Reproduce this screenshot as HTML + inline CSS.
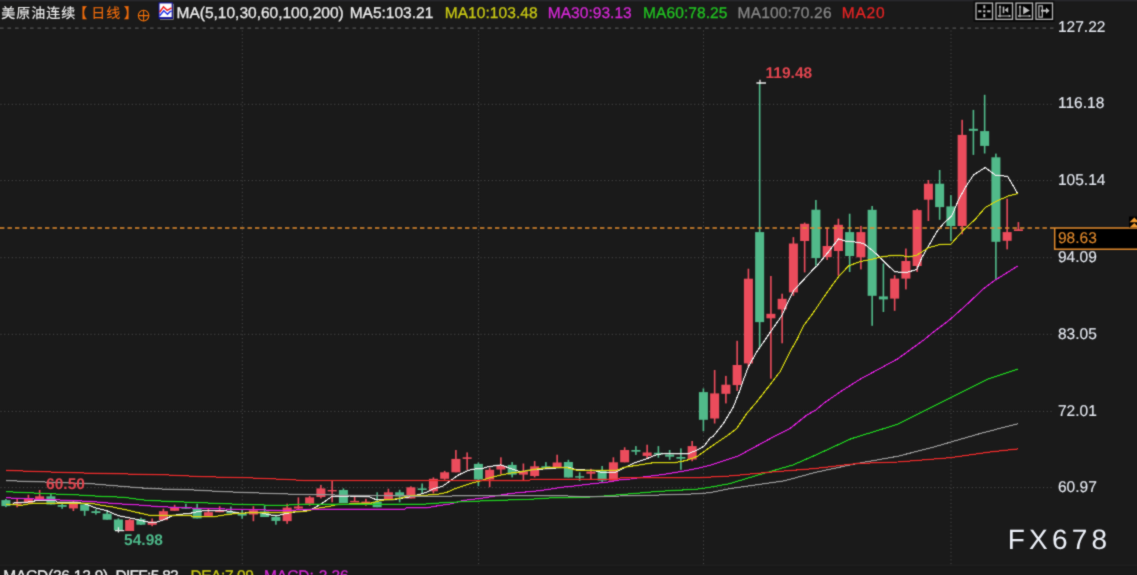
<!DOCTYPE html>
<html><head><meta charset="utf-8"><title>美原油连续 日线</title>
<style>
html,body{margin:0;padding:0;background:#1a1a1a;}
body{text-rendering:geometricPrecision;width:1137px;height:575px;overflow:hidden;position:relative;font-family:"Liberation Sans","Noto Sans CJK SC",sans-serif;}
.t{position:absolute;white-space:nowrap;line-height:1.15;-webkit-text-stroke:0.3px currentColor;}
#wrap{position:absolute;left:0;top:0;width:1137px;height:575px;filter:url(#soft);}
</style></head><body><div id="wrap">
<svg width="1137" height="575" viewBox="0 0 1137 575" style="position:absolute;left:0;top:0">
<defs><filter id="soft" x="0" y="0" width="100%" height="100%" color-interpolation-filters="sRGB"><feConvolveMatrix order="3" kernelMatrix="1 3 1 3 16 3 1 3 1" divisor="32" edgeMode="duplicate" preserveAlpha="false"/></filter></defs>
<rect x="0" y="-1" width="1137" height="2" fill="#27282c"/>
<rect x="0" y="1" width="1137" height="1" fill="#1e1e20"/>
<rect x="0" y="564.4" width="1137" height="1.8" fill="#1f1f1f"/>
<rect x="0" y="566.2" width="1137" height="9" fill="#191919"/>
<g stroke="#4a4a4a" stroke-width="1" fill="none">
<line x1="0" y1="28.1" x2="1053.5" y2="28.1" stroke="#626262" stroke-dasharray="3.6 3.9"/>
<line x1="0.5" y1="104.3" x2="1053" y2="104.3" stroke-dasharray="1.1 2.65"/>
<line x1="0.5" y1="180.6" x2="1053" y2="180.6" stroke-dasharray="1.1 2.65"/>
<line x1="0.5" y1="257.7" x2="1053" y2="257.7" stroke-dasharray="1.1 2.65"/>
<line x1="0.5" y1="334.3" x2="1053" y2="334.3" stroke-dasharray="1.1 2.65"/>
<line x1="0.5" y1="411.4" x2="1053" y2="411.4" stroke-dasharray="1.1 2.65"/>
<line x1="0.5" y1="487.6" x2="1053" y2="487.6" stroke-dasharray="1.1 2.65"/>
<line x1="242.3" y1="30.5" x2="242.3" y2="564.5" stroke-dasharray="1.1 2.65"/>
<line x1="478.6" y1="30.5" x2="478.6" y2="564.5" stroke-dasharray="1.1 2.65"/>
<line x1="703.5" y1="30.5" x2="703.5" y2="564.5" stroke-dasharray="1.1 2.65"/>
<line x1="951" y1="30.5" x2="951" y2="564.5" stroke-dasharray="1.1 2.65"/>
</g>
<g>
<rect x="5.10" y="499.0" width="1.6" height="8.1" fill="#51ba8a"/>
<rect x="1.40" y="500.1" width="9.0" height="6.0" fill="#51ba8a"/>
<rect x="16.35" y="498.3" width="1.6" height="9.0" fill="#eb4c5c"/>
<rect x="12.65" y="503.5" width="9.0" height="1.4" fill="#eb4c5c"/>
<rect x="27.60" y="494.8" width="1.6" height="8.3" fill="#eb4c5c"/>
<rect x="23.90" y="498.3" width="9.0" height="4.8" fill="#eb4c5c"/>
<rect x="38.85" y="490.0" width="1.6" height="9.2" fill="#eb4c5c"/>
<rect x="35.15" y="496.3" width="9.0" height="2.9" fill="#eb4c5c"/>
<rect x="50.10" y="493.3" width="1.6" height="11.2" fill="#51ba8a"/>
<rect x="46.40" y="496.3" width="9.0" height="8.2" fill="#51ba8a"/>
<rect x="61.35" y="503.5" width="1.6" height="5.3" fill="#51ba8a"/>
<rect x="57.65" y="505.0" width="9.0" height="1.8" fill="#51ba8a"/>
<rect x="72.60" y="501.0" width="1.6" height="10.0" fill="#eb4c5c"/>
<rect x="68.90" y="501.8" width="9.0" height="6.6" fill="#eb4c5c"/>
<rect x="83.85" y="503.7" width="1.6" height="12.1" fill="#51ba8a"/>
<rect x="80.15" y="504.4" width="9.0" height="6.4" fill="#51ba8a"/>
<rect x="95.10" y="509.2" width="1.6" height="5.4" fill="#51ba8a"/>
<rect x="91.40" y="511.2" width="9.0" height="1.8" fill="#51ba8a"/>
<rect x="106.35" y="511.0" width="1.6" height="8.7" fill="#51ba8a"/>
<rect x="102.65" y="513.7" width="9.0" height="6.0" fill="#51ba8a"/>
<rect x="117.60" y="518.3" width="1.6" height="12.3" fill="#51ba8a"/>
<rect x="113.90" y="519.5" width="9.0" height="10.9" fill="#51ba8a"/>
<rect x="128.85" y="518.9" width="1.6" height="12.1" fill="#eb4c5c"/>
<rect x="125.15" y="520.0" width="9.0" height="11.0" fill="#eb4c5c"/>
<rect x="140.10" y="517.7" width="1.6" height="7.3" fill="#51ba8a"/>
<rect x="136.40" y="519.1" width="9.0" height="5.6" fill="#51ba8a"/>
<rect x="151.35" y="518.5" width="1.6" height="7.7" fill="#eb4c5c"/>
<rect x="147.65" y="521.6" width="9.0" height="3.2" fill="#eb4c5c"/>
<rect x="162.60" y="508.7" width="1.6" height="11.4" fill="#eb4c5c"/>
<rect x="158.90" y="511.2" width="9.0" height="8.9" fill="#eb4c5c"/>
<rect x="173.85" y="504.8" width="1.6" height="6.0" fill="#eb4c5c"/>
<rect x="170.15" y="507.0" width="9.0" height="3.8" fill="#eb4c5c"/>
<rect x="185.10" y="503.8" width="1.6" height="4.9" fill="#51ba8a"/>
<rect x="181.40" y="507.3" width="9.0" height="1.4" fill="#51ba8a"/>
<rect x="196.35" y="503.8" width="1.6" height="14.6" fill="#51ba8a"/>
<rect x="192.65" y="508.7" width="9.0" height="9.7" fill="#51ba8a"/>
<rect x="207.60" y="508.0" width="1.6" height="7.9" fill="#eb4c5c"/>
<rect x="203.90" y="512.2" width="9.0" height="3.7" fill="#eb4c5c"/>
<rect x="218.85" y="506.2" width="1.6" height="6.0" fill="#eb4c5c"/>
<rect x="215.15" y="510.3" width="9.0" height="1.9" fill="#eb4c5c"/>
<rect x="230.10" y="506.6" width="1.6" height="6.9" fill="#51ba8a"/>
<rect x="226.40" y="511.5" width="9.0" height="2.0" fill="#51ba8a"/>
<rect x="241.35" y="509.4" width="1.6" height="9.3" fill="#51ba8a"/>
<rect x="237.65" y="513.5" width="9.0" height="2.1" fill="#51ba8a"/>
<rect x="252.60" y="506.2" width="1.6" height="15.0" fill="#eb4c5c"/>
<rect x="248.90" y="510.3" width="9.0" height="4.2" fill="#eb4c5c"/>
<rect x="263.85" y="504.8" width="1.6" height="12.2" fill="#51ba8a"/>
<rect x="260.15" y="511.5" width="9.0" height="5.5" fill="#51ba8a"/>
<rect x="275.10" y="515.6" width="1.6" height="9.1" fill="#51ba8a"/>
<rect x="271.40" y="517.0" width="9.0" height="3.9" fill="#51ba8a"/>
<rect x="286.35" y="503.7" width="1.6" height="20.1" fill="#eb4c5c"/>
<rect x="282.65" y="507.6" width="9.0" height="13.5" fill="#eb4c5c"/>
<rect x="297.60" y="497.4" width="1.6" height="12.5" fill="#eb4c5c"/>
<rect x="293.90" y="506.5" width="9.0" height="2.0" fill="#eb4c5c"/>
<rect x="308.85" y="496.0" width="1.6" height="9.8" fill="#eb4c5c"/>
<rect x="305.15" y="497.4" width="9.0" height="6.3" fill="#eb4c5c"/>
<rect x="320.10" y="484.9" width="1.6" height="13.5" fill="#eb4c5c"/>
<rect x="316.40" y="488.4" width="9.0" height="8.6" fill="#eb4c5c"/>
<rect x="331.35" y="480.7" width="1.6" height="21.6" fill="#eb4c5c"/>
<rect x="327.65" y="490.0" width="9.0" height="1.4" fill="#eb4c5c"/>
<rect x="342.60" y="488.4" width="1.6" height="14.6" fill="#51ba8a"/>
<rect x="338.90" y="490.0" width="9.0" height="13.0" fill="#51ba8a"/>
<rect x="353.85" y="496.0" width="1.6" height="6.0" fill="#eb4c5c"/>
<rect x="350.15" y="500.9" width="9.0" height="1.4" fill="#eb4c5c"/>
<rect x="365.10" y="498.8" width="1.6" height="7.0" fill="#eb4c5c"/>
<rect x="361.40" y="501.6" width="9.0" height="2.4" fill="#eb4c5c"/>
<rect x="376.35" y="492.3" width="1.6" height="14.9" fill="#51ba8a"/>
<rect x="372.65" y="501.6" width="9.0" height="5.6" fill="#51ba8a"/>
<rect x="387.60" y="488.7" width="1.6" height="10.8" fill="#eb4c5c"/>
<rect x="383.90" y="492.3" width="9.0" height="7.2" fill="#eb4c5c"/>
<rect x="398.85" y="489.8" width="1.6" height="12.5" fill="#51ba8a"/>
<rect x="395.15" y="492.3" width="9.0" height="4.1" fill="#51ba8a"/>
<rect x="410.10" y="486.3" width="1.6" height="12.1" fill="#eb4c5c"/>
<rect x="406.40" y="487.3" width="9.0" height="11.1" fill="#eb4c5c"/>
<rect x="421.35" y="483.5" width="1.6" height="10.5" fill="#51ba8a"/>
<rect x="417.65" y="488.4" width="9.0" height="1.6" fill="#51ba8a"/>
<rect x="432.60" y="477.4" width="1.6" height="16.0" fill="#eb4c5c"/>
<rect x="428.90" y="478.8" width="9.0" height="12.5" fill="#eb4c5c"/>
<rect x="443.85" y="470.9" width="1.6" height="8.9" fill="#eb4c5c"/>
<rect x="440.15" y="472.3" width="9.0" height="6.5" fill="#eb4c5c"/>
<rect x="455.10" y="450.0" width="1.6" height="22.3" fill="#eb4c5c"/>
<rect x="451.40" y="458.9" width="9.0" height="13.4" fill="#eb4c5c"/>
<rect x="466.35" y="452.4" width="1.6" height="17.4" fill="#eb4c5c"/>
<rect x="462.65" y="457.3" width="9.0" height="1.6" fill="#eb4c5c"/>
<rect x="477.60" y="462.5" width="1.6" height="23.7" fill="#51ba8a"/>
<rect x="473.90" y="463.9" width="9.0" height="15.6" fill="#51ba8a"/>
<rect x="488.85" y="467.7" width="1.6" height="19.5" fill="#eb4c5c"/>
<rect x="485.15" y="469.8" width="9.0" height="9.7" fill="#eb4c5c"/>
<rect x="500.10" y="457.3" width="1.6" height="17.3" fill="#eb4c5c"/>
<rect x="496.40" y="465.9" width="9.0" height="3.6" fill="#eb4c5c"/>
<rect x="511.35" y="462.1" width="1.6" height="15.3" fill="#51ba8a"/>
<rect x="507.65" y="464.9" width="9.0" height="9.7" fill="#51ba8a"/>
<rect x="522.60" y="463.5" width="1.6" height="16.7" fill="#eb4c5c"/>
<rect x="518.90" y="471.4" width="9.0" height="3.2" fill="#eb4c5c"/>
<rect x="533.85" y="461.1" width="1.6" height="16.3" fill="#eb4c5c"/>
<rect x="530.15" y="466.3" width="9.0" height="9.7" fill="#eb4c5c"/>
<rect x="545.10" y="462.1" width="1.6" height="6.3" fill="#51ba8a"/>
<rect x="541.40" y="466.3" width="9.0" height="2.1" fill="#51ba8a"/>
<rect x="556.35" y="454.7" width="1.6" height="12.6" fill="#eb4c5c"/>
<rect x="552.65" y="462.5" width="9.0" height="4.8" fill="#eb4c5c"/>
<rect x="567.60" y="459.8" width="1.6" height="17.7" fill="#51ba8a"/>
<rect x="563.90" y="462.0" width="9.0" height="15.5" fill="#51ba8a"/>
<rect x="578.85" y="472.3" width="1.6" height="8.6" fill="#51ba8a"/>
<rect x="575.15" y="476.2" width="9.0" height="1.4" fill="#51ba8a"/>
<rect x="590.10" y="468.8" width="1.6" height="10.2" fill="#eb4c5c"/>
<rect x="586.40" y="471.6" width="9.0" height="2.1" fill="#eb4c5c"/>
<rect x="601.35" y="466.0" width="1.6" height="16.3" fill="#51ba8a"/>
<rect x="597.65" y="470.9" width="9.0" height="9.7" fill="#51ba8a"/>
<rect x="612.60" y="457.3" width="1.6" height="23.3" fill="#eb4c5c"/>
<rect x="608.90" y="462.3" width="9.0" height="18.3" fill="#eb4c5c"/>
<rect x="623.85" y="447.3" width="1.6" height="15.0" fill="#eb4c5c"/>
<rect x="620.15" y="450.0" width="9.0" height="12.3" fill="#eb4c5c"/>
<rect x="635.10" y="446.1" width="1.6" height="8.8" fill="#51ba8a"/>
<rect x="631.40" y="450.0" width="9.0" height="1.7" fill="#51ba8a"/>
<rect x="646.35" y="444.7" width="1.6" height="13.7" fill="#eb4c5c"/>
<rect x="642.65" y="452.5" width="9.0" height="3.4" fill="#eb4c5c"/>
<rect x="657.60" y="446.1" width="1.6" height="11.6" fill="#51ba8a"/>
<rect x="653.90" y="452.8" width="9.0" height="1.7" fill="#51ba8a"/>
<rect x="668.85" y="450.0" width="1.6" height="9.8" fill="#51ba8a"/>
<rect x="665.15" y="454.5" width="9.0" height="2.2" fill="#51ba8a"/>
<rect x="680.10" y="448.4" width="1.6" height="21.4" fill="#51ba8a"/>
<rect x="676.40" y="457.0" width="9.0" height="1.7" fill="#51ba8a"/>
<rect x="691.35" y="441.0" width="1.6" height="20.2" fill="#eb4c5c"/>
<rect x="687.65" y="446.1" width="9.0" height="13.4" fill="#eb4c5c"/>
<rect x="702.60" y="388.4" width="1.6" height="42.8" fill="#51ba8a"/>
<rect x="698.90" y="392.1" width="9.0" height="27.7" fill="#51ba8a"/>
<rect x="713.85" y="370.0" width="1.6" height="53.5" fill="#eb4c5c"/>
<rect x="710.15" y="393.4" width="9.0" height="25.1" fill="#eb4c5c"/>
<rect x="725.10" y="375.9" width="1.6" height="27.5" fill="#eb4c5c"/>
<rect x="721.40" y="384.7" width="9.0" height="9.1" fill="#eb4c5c"/>
<rect x="736.35" y="340.8" width="1.6" height="50.1" fill="#eb4c5c"/>
<rect x="732.65" y="365.0" width="9.0" height="20.1" fill="#eb4c5c"/>
<rect x="747.60" y="268.7" width="1.6" height="98.8" fill="#eb4c5c"/>
<rect x="743.90" y="278.7" width="9.0" height="84.7" fill="#eb4c5c"/>
<rect x="758.85" y="83.0" width="1.6" height="264.5" fill="#51ba8a"/>
<rect x="755.15" y="232.1" width="9.0" height="90.0" fill="#51ba8a"/>
<rect x="770.10" y="276.0" width="1.6" height="102.7" fill="#eb4c5c"/>
<rect x="766.40" y="313.8" width="9.0" height="4.5" fill="#eb4c5c"/>
<rect x="781.35" y="293.7" width="1.6" height="49.6" fill="#eb4c5c"/>
<rect x="777.65" y="298.8" width="9.0" height="10.6" fill="#eb4c5c"/>
<rect x="792.60" y="237.1" width="1.6" height="58.7" fill="#eb4c5c"/>
<rect x="788.90" y="243.5" width="9.0" height="48.9" fill="#eb4c5c"/>
<rect x="803.85" y="222.6" width="1.6" height="49.8" fill="#eb4c5c"/>
<rect x="800.15" y="223.8" width="9.0" height="17.2" fill="#eb4c5c"/>
<rect x="815.10" y="200.0" width="1.6" height="65.7" fill="#51ba8a"/>
<rect x="811.40" y="209.7" width="9.0" height="48.4" fill="#51ba8a"/>
<rect x="826.35" y="227.6" width="1.6" height="32.3" fill="#eb4c5c"/>
<rect x="822.65" y="246.0" width="9.0" height="11.1" fill="#eb4c5c"/>
<rect x="837.60" y="218.7" width="1.6" height="57.0" fill="#eb4c5c"/>
<rect x="833.90" y="224.8" width="9.0" height="26.2" fill="#eb4c5c"/>
<rect x="848.85" y="213.7" width="1.6" height="58.3" fill="#51ba8a"/>
<rect x="845.15" y="232.1" width="9.0" height="23.9" fill="#51ba8a"/>
<rect x="860.10" y="225.9" width="1.6" height="43.5" fill="#eb4c5c"/>
<rect x="856.40" y="232.1" width="9.0" height="25.2" fill="#eb4c5c"/>
<rect x="871.35" y="206.0" width="1.6" height="119.8" fill="#51ba8a"/>
<rect x="867.65" y="209.8" width="9.0" height="86.0" fill="#51ba8a"/>
<rect x="882.60" y="263.5" width="1.6" height="48.5" fill="#51ba8a"/>
<rect x="878.90" y="296.4" width="9.0" height="3.0" fill="#51ba8a"/>
<rect x="893.85" y="275.2" width="1.6" height="35.6" fill="#eb4c5c"/>
<rect x="890.15" y="278.6" width="9.0" height="20.0" fill="#eb4c5c"/>
<rect x="905.10" y="248.5" width="1.6" height="40.9" fill="#eb4c5c"/>
<rect x="901.40" y="261.0" width="9.0" height="17.6" fill="#eb4c5c"/>
<rect x="916.35" y="208.8" width="1.6" height="63.1" fill="#eb4c5c"/>
<rect x="912.65" y="210.1" width="9.0" height="55.9" fill="#eb4c5c"/>
<rect x="927.60" y="180.0" width="1.6" height="41.0" fill="#eb4c5c"/>
<rect x="923.90" y="183.7" width="9.0" height="16.0" fill="#eb4c5c"/>
<rect x="938.85" y="170.0" width="1.6" height="49.8" fill="#51ba8a"/>
<rect x="935.15" y="183.7" width="9.0" height="23.4" fill="#51ba8a"/>
<rect x="950.10" y="195.1" width="1.6" height="45.9" fill="#51ba8a"/>
<rect x="946.40" y="206.4" width="9.0" height="19.6" fill="#51ba8a"/>
<rect x="961.35" y="119.8" width="1.6" height="114.5" fill="#eb4c5c"/>
<rect x="957.65" y="134.9" width="9.0" height="91.1" fill="#eb4c5c"/>
<rect x="972.60" y="109.9" width="1.6" height="45.0" fill="#51ba8a"/>
<rect x="968.90" y="128.8" width="9.0" height="2.0" fill="#51ba8a"/>
<rect x="983.85" y="94.8" width="1.6" height="58.7" fill="#51ba8a"/>
<rect x="980.15" y="131.1" width="9.0" height="14.8" fill="#51ba8a"/>
<rect x="995.10" y="153.6" width="1.6" height="126.6" fill="#51ba8a"/>
<rect x="991.40" y="157.3" width="9.0" height="84.5" fill="#51ba8a"/>
<rect x="1006.35" y="198.7" width="1.6" height="50.7" fill="#eb4c5c"/>
<rect x="1002.65" y="232.1" width="9.0" height="8.7" fill="#eb4c5c"/>
<rect x="1017.60" y="222.1" width="1.6" height="8.9" fill="#eb4c5c"/>
<rect x="1013.90" y="229.3" width="9.0" height="1.7" fill="#eb4c5c"/>
</g>
<polyline points="12.5,503.1 33,501.7 36,500.3 55.6,500.3 57,502 76.5,502 84.8,503.8 96,508 107,510.8 118,515.6 129,517.7 140,520.2 149,522.3 156,522.3 163,520.1 172.6,515.6 181,514.2 189.3,513.5 197.6,511.7 203,510.8 225.4,510.8 236.6,512.6 242,513.5 250.5,512.2 260,512.6 270,514.9 278,515.6 284,514 292,512.3 302,511.3 312,509.2 321.6,503.7 332,496.4 349.4,496 360.5,496.4 369,496.7 375.8,499.5 392.5,499.8 402,498.1 407.8,497.4 416,495.3 426,492.5 433,489 442.7,486.2 451,480.2 458,475.3 467.7,470.5 473.3,469.1 481.6,468.7 487.2,467 495.5,465.6 501,464.9 509.4,468.1 520.6,471.9 531.7,469.8 541.4,469.1 551,468.4 568,467 576.3,469.8 593,470.2 601.4,472.3 615.3,472.3 623.6,468.1 634.8,462.8 645.9,459.1 657,454.5 665.4,453.5 676.5,453.9 687.6,453.9 697.3,450 704.3,445.9 710,438.2 713.4,436 723.4,423.5 733.4,406.8 740,390 743.4,380 748.4,366.7 756.8,351.7 765,340 773.5,327.5 781.8,315.8 788.5,300.8 793.5,290.7 803.5,279.9 813.5,269 816.8,266 828.5,251.8 838.5,238.8 845.2,241 853.5,241.8 863.6,243.5 871.9,250.1 878.6,256 885,262.7 895,271.9 906.8,272.4 916.8,269.4 921.8,257.7 928.5,246 936.8,231.8 943.5,223.5 951.8,215.9 958.5,200 965.2,187.6 973.5,175 985.2,167.5 995.2,175 1007.7,176.4 1017.7,193.7" fill="none" stroke="#ececec" stroke-width="1.6" stroke-opacity="0.38" stroke-linejoin="round"/><polyline points="12.5,503.1 33,501.7 36,500.3 55.6,500.3 57,502 76.5,502 84.8,503.8 96,508 107,510.8 118,515.6 129,517.7 140,520.2 149,522.3 156,522.3 163,520.1 172.6,515.6 181,514.2 189.3,513.5 197.6,511.7 203,510.8 225.4,510.8 236.6,512.6 242,513.5 250.5,512.2 260,512.6 270,514.9 278,515.6 284,514 292,512.3 302,511.3 312,509.2 321.6,503.7 332,496.4 349.4,496 360.5,496.4 369,496.7 375.8,499.5 392.5,499.8 402,498.1 407.8,497.4 416,495.3 426,492.5 433,489 442.7,486.2 451,480.2 458,475.3 467.7,470.5 473.3,469.1 481.6,468.7 487.2,467 495.5,465.6 501,464.9 509.4,468.1 520.6,471.9 531.7,469.8 541.4,469.1 551,468.4 568,467 576.3,469.8 593,470.2 601.4,472.3 615.3,472.3 623.6,468.1 634.8,462.8 645.9,459.1 657,454.5 665.4,453.5 676.5,453.9 687.6,453.9 697.3,450 704.3,445.9 710,438.2 713.4,436 723.4,423.5 733.4,406.8 740,390 743.4,380 748.4,366.7 756.8,351.7 765,340 773.5,327.5 781.8,315.8 788.5,300.8 793.5,290.7 803.5,279.9 813.5,269 816.8,266 828.5,251.8 838.5,238.8 845.2,241 853.5,241.8 863.6,243.5 871.9,250.1 878.6,256 885,262.7 895,271.9 906.8,272.4 916.8,269.4 921.8,257.7 928.5,246 936.8,231.8 943.5,223.5 951.8,215.9 958.5,200 965.2,187.6 973.5,175 985.2,167.5 995.2,175 1007.7,176.4 1017.7,193.7" fill="none" stroke="#ececec" stroke-width="1.0" stroke-linejoin="round" shape-rendering="crispEdges"/>
<polyline points="6,504.2 22,505.3 33,503.1 90,503.1 101,505.2 112.6,507 124,509.4 139,512.9 150,515.4 190.7,515.4 192,516.7 214,516.7 225,514.9 236.6,513.5 247.7,512.9 270,512.6 284,512.5 306,511.3 316,508.5 328.5,506.5 338,504.4 349.4,504 359,503 371.6,503 381.4,500.2 392.5,499.5 402,497.8 409,495.6 426,495.2 438.5,494.1 446.9,492.3 453.8,489.2 462,486.2 472,483 481.6,480.6 488.6,478.1 498.3,475.6 509.4,473.2 520.6,471.9 531.7,469.8 541.4,468.4 551,467.3 568,467.9 576.3,470.2 616.7,470.2 623.6,467.4 641.7,464.6 652.8,462.8 675,462.6 686.2,460.5 697.3,456.3 710,447.3 726.7,436 736.7,428.5 746.8,413.5 756.8,401.8 768.5,386.7 780,371.7 790,351.7 796.8,340 803.5,325.8 813.5,312.4 823.6,297.4 831.9,285.7 838.6,276.6 848.6,265.9 860.2,261.5 871.9,259.3 880.3,257.1 890.3,255.6 900,255.2 908.4,256.9 916.8,255.2 928.5,247.7 940,244.5 951,244 963.5,230.1 975.2,219.3 985.2,207.6 996.9,200.9 1008.6,195.9 1017.7,193.7" fill="none" stroke="#d6d610" stroke-width="1.6" stroke-opacity="0.38" stroke-linejoin="round"/><polyline points="6,504.2 22,505.3 33,503.1 90,503.1 101,505.2 112.6,507 124,509.4 139,512.9 150,515.4 190.7,515.4 192,516.7 214,516.7 225,514.9 236.6,513.5 247.7,512.9 270,512.6 284,512.5 306,511.3 316,508.5 328.5,506.5 338,504.4 349.4,504 359,503 371.6,503 381.4,500.2 392.5,499.5 402,497.8 409,495.6 426,495.2 438.5,494.1 446.9,492.3 453.8,489.2 462,486.2 472,483 481.6,480.6 488.6,478.1 498.3,475.6 509.4,473.2 520.6,471.9 531.7,469.8 541.4,468.4 551,467.3 568,467.9 576.3,470.2 616.7,470.2 623.6,467.4 641.7,464.6 652.8,462.8 675,462.6 686.2,460.5 697.3,456.3 710,447.3 726.7,436 736.7,428.5 746.8,413.5 756.8,401.8 768.5,386.7 780,371.7 790,351.7 796.8,340 803.5,325.8 813.5,312.4 823.6,297.4 831.9,285.7 838.6,276.6 848.6,265.9 860.2,261.5 871.9,259.3 880.3,257.1 890.3,255.6 900,255.2 908.4,256.9 916.8,255.2 928.5,247.7 940,244.5 951,244 963.5,230.1 975.2,219.3 985.2,207.6 996.9,200.9 1008.6,195.9 1017.7,193.7" fill="none" stroke="#d6d610" stroke-width="1.0" stroke-linejoin="round" shape-rendering="crispEdges"/>
<polyline points="6,497.8 34,499 68,500.3 90,501.4 112.6,503.4 135,504.8 142,505.2 158,506.6 192,508 225.4,509 270,510.1 284,510.6 316,509 405,509 406.4,507.9 426,508 437,505.9 451,503.8 463.5,500.4 473.3,499.3 485.8,497.6 506.7,494.1 517.8,492.7 529,491.7 540,490.6 551,489 562.3,487.2 568,486.7 586,484.5 608.3,482 619.5,479.9 630.6,479 641.7,477.2 664,474.4 686.2,470.6 700,467.8 710,465.3 737.8,456.2 775,436 784.3,431.5 790,428.5 806.9,415 816.2,409.7 823.6,403.4 840.3,391.8 859.8,379.4 897.6,358.9 923.7,340 933.5,332 950,319.5 966.9,304.4 983.6,288.6 995,280.2 1007,272.7 1017.8,266" fill="none" stroke="#dc1fdc" stroke-width="1.6" stroke-opacity="0.38" stroke-linejoin="round"/><polyline points="6,497.8 34,499 68,500.3 90,501.4 112.6,503.4 135,504.8 142,505.2 158,506.6 192,508 225.4,509 270,510.1 284,510.6 316,509 405,509 406.4,507.9 426,508 437,505.9 451,503.8 463.5,500.4 473.3,499.3 485.8,497.6 506.7,494.1 517.8,492.7 529,491.7 540,490.6 551,489 562.3,487.2 568,486.7 586,484.5 608.3,482 619.5,479.9 630.6,479 641.7,477.2 664,474.4 686.2,470.6 700,467.8 710,465.3 737.8,456.2 775,436 784.3,431.5 790,428.5 806.9,415 816.2,409.7 823.6,403.4 840.3,391.8 859.8,379.4 897.6,358.9 923.7,340 933.5,332 950,319.5 966.9,304.4 983.6,288.6 995,280.2 1007,272.7 1017.8,266" fill="none" stroke="#dc1fdc" stroke-width="1.0" stroke-linejoin="round" shape-rendering="crispEdges"/>
<polyline points="6,491.7 34,493 55.6,494 79,495 101.5,496.4 124,497.3 136,499 146,500.3 169,501.4 203,502.8 236.6,504.2 270,505.2 284,505.3 304,504 426,504 440,502.9 460.8,501.8 495.5,500.4 529,499.3 551,497.9 568,497.8 586,497.3 608.3,495.7 630.6,493.8 641.7,492.9 652.8,491.8 675,490.4 696,489.3 710,487.2 729,483.8 758,475.1 793,464.9 816.2,454.8 851,438.8 897.6,424.3 932.4,406.8 961.5,392.3 987.6,379.2 1018.1,369.1" fill="none" stroke="#1fd01f" stroke-width="1.6" stroke-opacity="0.38" stroke-linejoin="round"/><polyline points="6,491.7 34,493 55.6,494 79,495 101.5,496.4 124,497.3 136,499 146,500.3 169,501.4 203,502.8 236.6,504.2 270,505.2 284,505.3 304,504 426,504 440,502.9 460.8,501.8 495.5,500.4 529,499.3 551,497.9 568,497.8 586,497.3 608.3,495.7 630.6,493.8 641.7,492.9 652.8,491.8 675,490.4 696,489.3 710,487.2 729,483.8 758,475.1 793,464.9 816.2,454.8 851,438.8 897.6,424.3 932.4,406.8 961.5,392.3 987.6,379.2 1018.1,369.1" fill="none" stroke="#1fd01f" stroke-width="1.0" stroke-linejoin="round" shape-rendering="crispEdges"/>
<polyline points="6,480.6 34,481.6 90,483.6 139,487.8 158,488.9 192,489.9 225,491.7 259,493 293,494.2 350,495.3 426,496.2 495,495.7 568,496 586,497 620,496 653,495.2 697,493.8 710,492.7 729,488.8 784,480.9 816,472.2 857,463.5 898,456.2 932,447.5 982,433 1018,423.7" fill="none" stroke="#989898" stroke-width="1.6" stroke-opacity="0.38" stroke-linejoin="round"/><polyline points="6,480.6 34,481.6 90,483.6 139,487.8 158,488.9 192,489.9 225,491.7 259,493 293,494.2 350,495.3 426,496.2 495,495.7 568,496 586,497 620,496 653,495.2 697,493.8 710,492.7 729,488.8 784,480.9 816,472.2 857,463.5 898,456.2 932,447.5 982,433 1018,423.7" fill="none" stroke="#989898" stroke-width="1.0" stroke-linejoin="round" shape-rendering="crispEdges"/>
<polyline points="6,470.4 45,471.8 79,472.9 124,473.9 169,475 203,476.7 248,477.8 270,478.8 284,479.3 304,480.5 426,480.5 529,480.6 531,479.2 568,479.2 618,479 620,477.9 700,477.6 729,476 769.7,472.2 816.2,468.4 856.9,463.5 897.6,462 949.9,457.7 990.5,451.9 1018.1,448.9" fill="none" stroke="#ea2a2a" stroke-width="1.6" stroke-opacity="0.38" stroke-linejoin="round"/><polyline points="6,470.4 45,471.8 79,472.9 124,473.9 169,475 203,476.7 248,477.8 270,478.8 284,479.3 304,480.5 426,480.5 529,480.6 531,479.2 568,479.2 618,479 620,477.9 700,477.6 729,476 769.7,472.2 816.2,468.4 856.9,463.5 897.6,462 949.9,457.7 990.5,451.9 1018.1,448.9" fill="none" stroke="#ea2a2a" stroke-width="1.0" stroke-linejoin="round" shape-rendering="crispEdges"/>
<line x1="0" y1="228" x2="1054" y2="228" stroke="#e08a2e" stroke-width="1.55" stroke-dasharray="4.4 3.1"/>
<rect x="1054.7" y="228" width="90" height="21.2" fill="#000" stroke="#e0892c" stroke-width="1.5"/>
<rect x="1129" y="216.5" width="8" height="11" fill="#000"/>
<path d="M1129.6 222.2 L1134.3 217.6 L1139 222.2 Z M1129.6 227.6 L1134.3 223 L1139 227.6 Z" fill="#f09a30"/>
<path d="M756.4 83 H766 M760 79.8 V84" stroke="#e8e8e8" stroke-width="1.3" fill="none"/>
<path d="M115 530.6 H124.3 M118.45 527.3 V532.6" stroke="#e8e8e8" stroke-width="1.3" fill="none"/>
<rect x="973.5" y="0.8" width="81" height="21" fill="#0b0b0b"/>
<rect x="976.0" y="3.1" width="16.5" height="16.2" fill="#030303" stroke="#b4b4b4" stroke-width="1.3"/>
<rect x="996.0" y="3.1" width="16.5" height="16.2" fill="#030303" stroke="#b4b4b4" stroke-width="1.3"/>
<rect x="1016.0" y="3.1" width="16.5" height="16.2" fill="#030303" stroke="#b4b4b4" stroke-width="1.3"/>
<rect x="1036.0" y="3.1" width="16.5" height="16.2" fill="#030303" stroke="#b4b4b4" stroke-width="1.3"/>
<g fill="#bdbdbd"><rect x="978.2" y="10.3" width="3.2" height="2"/><rect x="983.2" y="10.3" width="2.2" height="2"/><rect x="987.2" y="10.3" width="3.3" height="2"/><rect x="983.3" y="5.3" width="2" height="3.1"/><rect x="983.3" y="14.1" width="2" height="3.1"/></g>
<g stroke="#bdbdbd" fill="#bdbdbd" stroke-width="1.2"><path d="M1000 6.5 V17.2 M998 16 H1010.5" fill="none"/><path d="M1000 5 L1001.3 7.4 H998.7 Z M1011 16 L1008.8 14.8 V17.2 Z M997.6 16 L999.2 15 V17 Z" stroke="none"/><path d="M1003.5 6.6 V13.2" stroke-width="1.6"/><path d="M1004.6 9.9 L1008.2 7 V12.8 Z" stroke="none"/></g>
<g stroke="#bdbdbd" fill="#bdbdbd" stroke-width="1.2"><path d="M1020 6.5 V17.2 M1018 16 H1030.5" fill="none"/><path d="M1020 5 L1021.3 7.4 H1018.7 Z M1031 16 L1028.8 14.8 V17.2 Z M1017.6 16 L1019.2 15 V17 Z" stroke="none"/><path d="M1023.2 6.2 L1029.8 10.4 L1023.2 14.2 Z" stroke="none"/></g>
<g stroke="#bdbdbd" fill="#bdbdbd" stroke-width="1.2"><rect x="1038.9" y="5.9" width="3.4" height="11.2" fill="none"/><path d="M1041 10.7 H1047" stroke-width="2"/><path d="M1049.6 10.7 L1046 7.6 V13.8 Z" stroke="none"/></g>
<g><path d="M160 19.4 H173.4 V3.8" stroke="#7c7c7c" stroke-width="1" fill="none"/><rect x="159" y="2.9" width="13.2" height="15.2" fill="#fff" stroke="#10109a" stroke-width="1.1"/><path d="M159 18 H172.2" stroke="#10109a" stroke-width="1.6"/><path d="M159.6 12.2 L163.5 6.8 L167.2 10.4 L171.6 7.9" stroke="#f41c1c" stroke-width="1.5" fill="none"/><path d="M159.6 15.7 L163.8 10.7 L167.5 14.2 L170.1 11.4 H171.7" stroke="#2030e8" stroke-width="1.4" fill="none"/></g>
<g stroke="#f47208" stroke-width="1.05" fill="none"><circle cx="143.6" cy="15.6" r="5.3"/><path d="M138.3 15.6 H148.9 M143.6 10.3 V20.9"/></g>
</svg>
<span class="t" style="left:1.2px;top:4.6px;color:#ededed;font-size:14px;letter-spacing:1px;-webkit-text-stroke:0.15px currentColor;font-family:'Liberation Sans','Noto Sans CJK SC',sans-serif;">美原油连续<span style="color:#f06c0c"><span style="position:relative;left:-3px">【</span>日线<span style="position:relative;left:2.5px">】</span></span></span>
<span class="t" style="left:176.5px;top:5.1px;color:#ececec;font-size:15.5px;letter-spacing:0px;">MA(5,10,30,60,100,200)</span>
<span class="t" style="left:349.7px;top:5.1px;color:#ececec;font-size:15.5px;letter-spacing:0px;">MA5:103.21</span>
<span class="t" style="left:444.7px;top:5.1px;color:#c8c814;font-size:15.5px;letter-spacing:0.07px;">MA10:103.48</span>
<span class="t" style="left:547.7px;top:5.1px;color:#d428d4;font-size:15.5px;letter-spacing:0.05px;">MA30:93.13</span>
<span class="t" style="left:643.1px;top:5.1px;color:#22c022;font-size:15.5px;letter-spacing:0.08px;">MA60:78.25</span>
<span class="t" style="left:737.6px;top:5.1px;color:#858585;font-size:15.5px;letter-spacing:0.17px;">MA100:70.26</span>
<span class="t" style="left:841.8px;top:5.1px;color:#e42424;font-size:15.5px;letter-spacing:0.77px;">MA20</span>
<span class="t" style="left:1058.0px;top:19.0px;color:#e6eaf2;font-size:15.5px;-webkit-text-stroke:0.12px currentColor;">127.22</span>
<span class="t" style="left:1058.0px;top:95.3px;color:#e6eaf2;font-size:15.5px;-webkit-text-stroke:0.12px currentColor;">116.18</span>
<span class="t" style="left:1058.0px;top:171.9px;color:#e6eaf2;font-size:15.5px;-webkit-text-stroke:0.12px currentColor;">105.14</span>
<span class="t" style="left:1058.0px;top:249.39999999999998px;color:#e6eaf2;font-size:15.5px;-webkit-text-stroke:0.12px currentColor;">94.09</span>
<span class="t" style="left:1058.0px;top:325.7px;color:#e6eaf2;font-size:15.5px;-webkit-text-stroke:0.12px currentColor;">83.05</span>
<span class="t" style="left:1058.0px;top:402.6px;color:#e6eaf2;font-size:15.5px;-webkit-text-stroke:0.12px currentColor;">72.01</span>
<span class="t" style="left:1058.0px;top:478.7px;color:#e6eaf2;font-size:15.5px;-webkit-text-stroke:0.12px currentColor;">60.97</span>
<span class="t" style="left:1058.0px;top:230.2px;color:#e0892c;font-size:15.5px;-webkit-text-stroke:0.12px currentColor;">98.63</span>
<span class="t" style="left:765.6px;top:65.30000000000001px;color:#e2454f;font-size:15.5px;font-weight:bold;-webkit-text-stroke:0;">119.48</span>
<span class="t" style="left:46.1px;top:475.5px;color:#e2454f;font-size:15.5px;font-weight:bold;-webkit-text-stroke:0;">60.50</span>
<span class="t" style="left:124.1px;top:531.7px;color:#4db98a;font-size:15.5px;font-weight:bold;-webkit-text-stroke:0;">54.98</span>
<span class="t" style="left:1007.8px;top:524.1px;color:#eef2fa;font-size:28px;letter-spacing:4.2px;-webkit-text-stroke:0;">FX678</span>
<span class="t" style="left:3.3px;top:568.4px;color:#ececec;font-size:15.5px;letter-spacing:-0.23px;">MACD(26,12,9)</span>
<span class="t" style="left:115.4px;top:568.4px;color:#ececec;font-size:15.5px;letter-spacing:-0.7px;">DIFF:5.82</span>
<span class="t" style="left:190.4px;top:568.4px;color:#c8c814;font-size:15.5px;letter-spacing:-0.42px;">DEA:7.09</span>
<span class="t" style="left:264px;top:568.4px;color:#d428d4;font-size:15.5px;letter-spacing:-0.06px;">MACD:-2.26</span>
</div></body></html>
